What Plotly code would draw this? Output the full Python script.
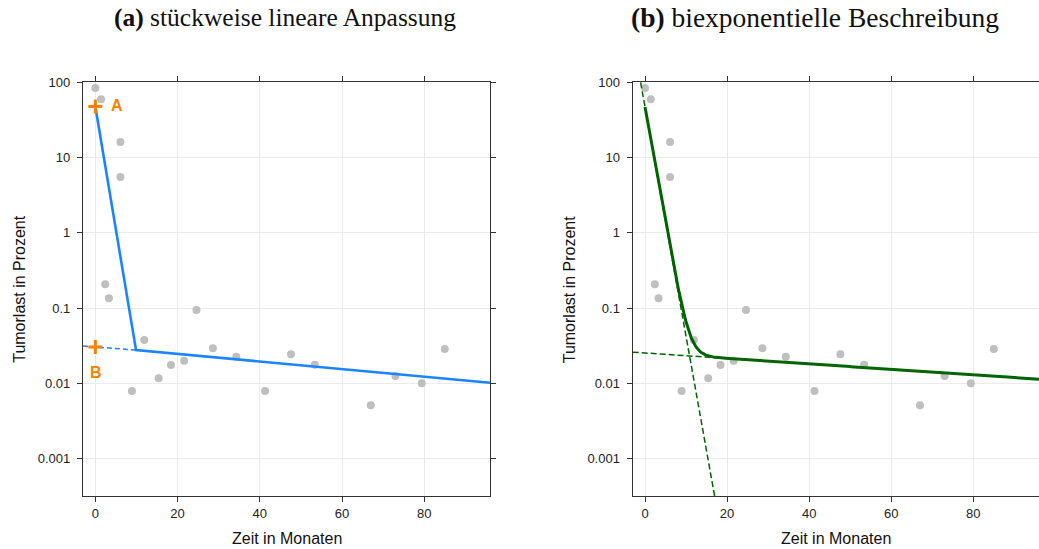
import numpy as np
import plotly.graph_objects as go

# ---------------- data ----------------
months = [0.0, 1.4, 6.1, 6.1, 2.4, 3.3, 24.6, 11.9, 28.6, 34.3, 47.6,
          53.4, 21.6, 18.4, 15.4, 8.9, 41.3, 67.0, 73.0, 79.4, 85.0]
tumor_load = [83, 59, 16, 5.5, 0.207, 0.135, 0.094, 0.0375, 0.0293, 0.0225,
              0.0244, 0.0176, 0.0199, 0.0175, 0.0117, 0.0079, 0.0079,
              0.0051, 0.0125, 0.0100, 0.0285]

# (a) piecewise linear fit (knots on log scale)
seg_t = [0.0, 9.9, 96.0]
seg_y = [47.4, 0.0276, 0.0102]
ext_t = [-3.0, 9.9]
ext_y = [0.0313, 0.0276]
point_labels = ["A", "B"]
point_t = [0.0, 0.0]
point_y = [47.4, 0.0303]

# (b) biexponential fit parameters
A1, k1 = 46.6, 0.701      # fast component (per month)
A2, k2 = 0.0253, 0.00834  # slow component (per month)

tick_vals = [0.001, 0.01, 0.1, 1, 10, 100]
tick_text = ["0.001", "0.01", "0.1", "1", "10", "100"]
x_ticks = [0, 20, 40, 60, 80]

BLUE = "#1a84ff"
ORANGE = "#ff8000"
GREEN = "#006400"
GRAY = "#bfbfbf"
AX = "#333333"
W, H = 1039, 549
TOP, BOT = 82, 496          # plot area pixel rows


def py(p):
    """pixel row -> paper y (plot area spans TOP..BOT)"""
    return (BOT - p) / (BOT - TOP)


fig = go.Figure()

# ---- panel (a)
fig.add_trace(go.Scatter(x=months, y=tumor_load, mode="markers",
                         marker=dict(color=GRAY, size=8), xaxis="x", yaxis="y",
                         showlegend=False, hoverinfo="skip"))
fig.add_trace(go.Scatter(x=ext_t, y=ext_y, mode="lines",
                         line=dict(color=BLUE, width=1.5, dash="5px,3px"),
                         xaxis="x", yaxis="y", showlegend=False))
fig.add_trace(go.Scatter(x=seg_t, y=seg_y, mode="lines",
                         line=dict(color=BLUE, width=2.6),
                         xaxis="x", yaxis="y", showlegend=False))
fig.add_trace(go.Scatter(x=point_t, y=point_y, mode="markers",
                         marker=dict(symbol="cross-thin", size=10,
                                     line=dict(color=ORANGE, width=3)),
                         xaxis="x", yaxis="y", showlegend=False))

# ---- panel (b)
t_fast = np.linspace(-3, 18, 200)
t_slow = np.linspace(-3, 96, 200)
t_sum = np.linspace(0, 96, 600)
fig.add_trace(go.Scatter(x=months, y=tumor_load, mode="markers",
                         marker=dict(color=GRAY, size=8), xaxis="x2", yaxis="y2",
                         showlegend=False, hoverinfo="skip"))
fig.add_trace(go.Scatter(x=t_fast, y=A1 * np.exp(-k1 * t_fast), mode="lines",
                         line=dict(color=GREEN, width=1.5, dash="6px,3px"),
                         xaxis="x2", yaxis="y2", showlegend=False))
fig.add_trace(go.Scatter(x=t_slow, y=A2 * np.exp(-k2 * t_slow), mode="lines",
                         line=dict(color=GREEN, width=1.5, dash="6px,3px"),
                         xaxis="x2", yaxis="y2", showlegend=False))
fig.add_trace(go.Scatter(x=t_sum, y=A1 * np.exp(-k1 * t_sum) + A2 * np.exp(-k2 * t_sum),
                         mode="lines", line=dict(color=GREEN, width=3),
                         xaxis="x2", yaxis="y2", showlegend=False))


def xax(domain, mirror):
    return dict(domain=domain, range=[-3, 96], tickvals=x_ticks,
                showgrid=True, gridcolor="#ebebeb", gridwidth=1, zeroline=False,
                showline=True, linecolor=AX, linewidth=1.3, mirror=mirror,
                ticks="outside", ticklen=5, tickcolor=AX, tickwidth=1.3,
                tickfont=dict(family="Liberation Sans", size=13, color="#222"))


def yax(anchor, mirror):
    return dict(domain=[0, 1], anchor=anchor, type="log", range=[-3.4955, 2.0],
                tickvals=tick_vals, ticktext=tick_text, ticklabelstandoff=4,
                showgrid=True, gridcolor="#ebebeb", gridwidth=1, zeroline=False,
                showline=True, linecolor=AX, linewidth=1.3, mirror=mirror,
                ticks="outside", ticklen=5, tickcolor=AX, tickwidth=1.3,
                tickfont=dict(family="Liberation Sans", size=13, color="#222"))


fig.update_layout(
    width=W, height=H, margin=dict(l=0, r=0, t=TOP, b=H - BOT, autoexpand=False),
    plot_bgcolor="white", paper_bgcolor="white",
    xaxis=dict(**xax([83 / W, 490 / W], "ticks"), anchor="y"),
    yaxis=yax("x", "ticks"),
    xaxis2=dict(**xax([632.7 / W, 1.0], "ticks"), anchor="y2"),
    yaxis2=yax("x2", False),
)

ann = []
titles = [("<b>(a)</b> stückweise lineare Anpassung", 285, 25.5),
          ("<b>(b)</b> biexponentielle Beschreibung", 815, 27.5)]
for txt, px, fs in titles:
    ann.append(dict(text=txt, x=px / W, y=py(18), xref="paper", yref="paper",
                    xanchor="center", yanchor="middle", showarrow=False,
                    font=dict(family="Liberation Serif", size=fs, color="#111")))
for cx in [286.5, 835.8]:
    ann.append(dict(text="Zeit in Monaten", x=cx / W, y=py(538),
                    xref="paper", yref="paper", xanchor="center", yanchor="middle",
                    showarrow=False, font=dict(family="Liberation Sans", size=16, color="#111")))
for cx in [19.5, 569]:
    ann.append(dict(text="Tumorlast in Prozent", x=cx / W, y=py(289.3),
                    xref="paper", yref="paper", xanchor="center", yanchor="middle",
                    textangle=-90, showarrow=False,
                    font=dict(family="Liberation Sans", size=16, color="#111")))
# A / B labels
ann.append(dict(text="<b>%s</b>" % point_labels[0], x=point_t[0], y=np.log10(point_y[0]),
                xref="x", yref="y", xshift=22, yshift=1, showarrow=False,
                font=dict(family="Liberation Sans", size=16, color=ORANGE)))
ann.append(dict(text="<b>%s</b>" % point_labels[1], x=point_t[1], y=np.log10(point_y[1]),
                xref="x", yref="y", xshift=1, yshift=-25, showarrow=False,
                font=dict(family="Liberation Sans", size=16, color=ORANGE)))
fig.update_layout(annotations=ann)

fig.write_html("out.html")
